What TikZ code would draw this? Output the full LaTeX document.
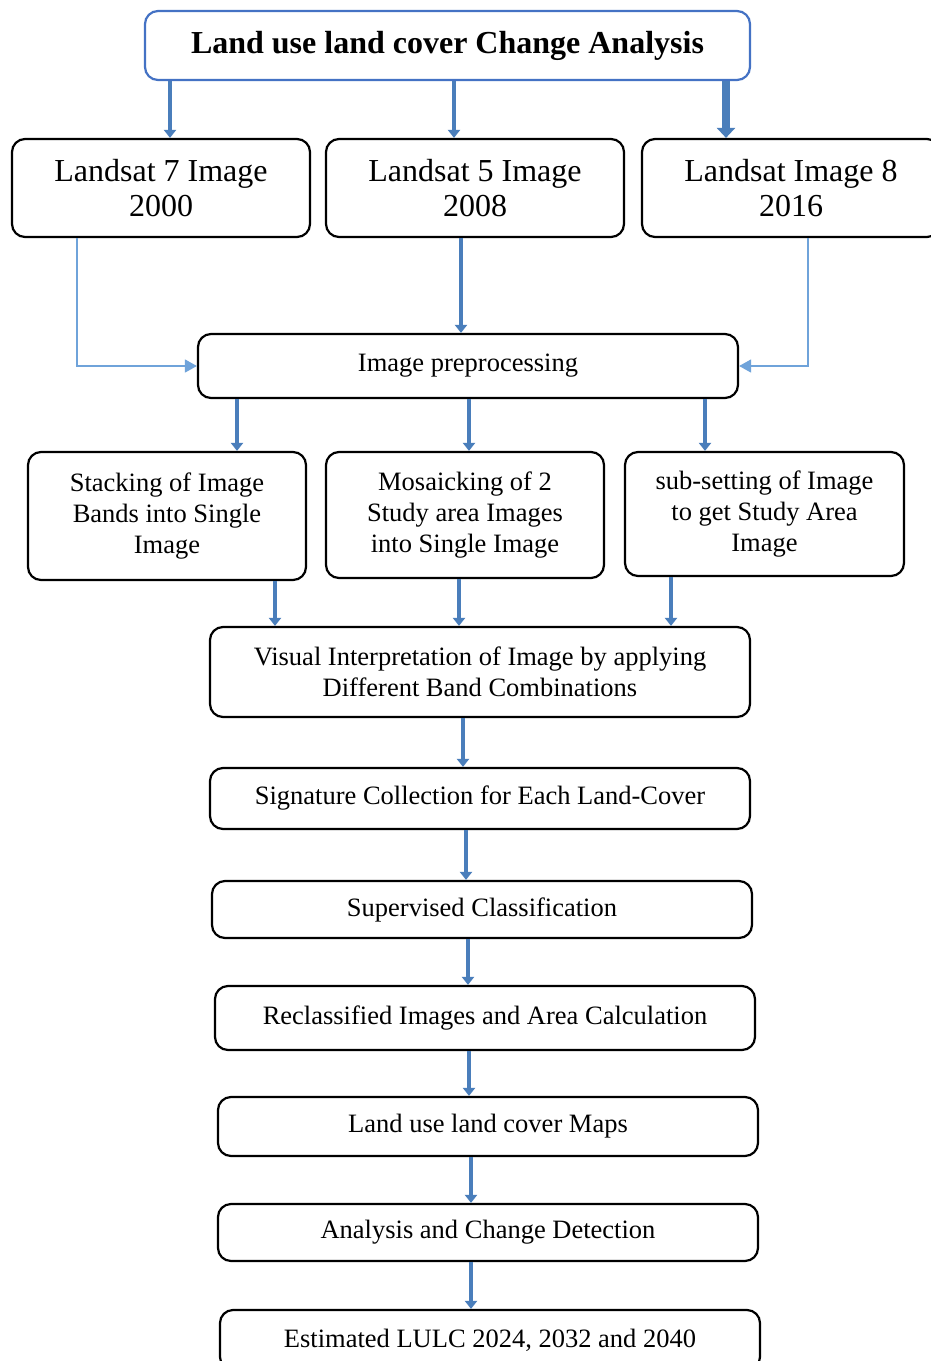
\documentclass[tikz,border=0pt]{standalone}
\usepackage{fontspec}
\setmainfont{Liberation Serif}
\usetikzlibrary{arrows.meta}
\definecolor{titleblue}{HTML}{4472C4}
\definecolor{arrowblue}{HTML}{4A7EBB}
\definecolor{thinblue}{HTML}{6FA3DA}
\tikzset{
  box/.style={draw=black, line width=2.2pt, rounded corners=13pt, inner sep=0pt, align=center,
    font=\fontsize{26.5}{31}\selectfont},
  bigbox/.style={box, font=\fontsize{32}{35}\selectfont},
  titlebox/.style={box, draw=titleblue, font=\bfseries\fontsize{32}{34}\selectfont},
  blk/.style={draw=arrowblue, line width=4.5pt, -{Triangle[width=12pt,length=8pt]}},
  blkwide/.style={draw=arrowblue, line width=8pt, -{Triangle[width=18pt,length=10pt]}},
  thin/.style={draw=thinblue, line width=1.4pt, -{Triangle[width=13pt,length=12pt]}},
}
\begin{document}
\begin{tikzpicture}[x=1pt,y=-1pt]
\useasboundingbox[fill=white] (0,0) rectangle (930,1361);
\node[titlebox, minimum width=605pt, minimum height=69pt] (title) at (447.5,45.5) {Land use land cover Change Analysis};
\node[bigbox, minimum width=298pt, minimum height=98pt] (l7) at (161,188) {Landsat 7 Image\\2000};
\node[bigbox, minimum width=298pt, minimum height=98pt] (l5) at (475,188) {Landsat 5 Image\\2008};
\node[bigbox, minimum width=298pt, minimum height=98pt] (l8) at (791,188) {Landsat Image 8\\2016};
\node[box, minimum width=540pt, minimum height=64pt] (pre) at (468,366) {Image preprocessing};
\node[box, minimum width=278pt, minimum height=128pt] (stk) at (167,516) {Stacking of Image\\Bands into Single\\Image};
\node[box, minimum width=278pt, minimum height=126pt] (mos) at (465,515) {Mosaicking of 2\\Study area Images\\into Single Image};
\node[box, minimum width=279pt, minimum height=124pt] (sub) at (764.5,514) {sub-setting of Image\\to get Study Area\\Image};
\node[box, minimum width=540pt, minimum height=90pt] (vis) at (480,672) {Visual Interpretation of Image by applying\\Different Band Combinations};
\node[box, minimum width=540pt, minimum height=61pt] (sig) at (480,798.5) {Signature Collection for Each Land-Cover};
\node[box, minimum width=540pt, minimum height=57pt] (sup) at (482,909.5) {Supervised Classification};
\node[box, minimum width=540pt, minimum height=64pt] (rec) at (485,1018) {Reclassified Images and Area Calculation};
\node[box, minimum width=540pt, minimum height=59pt] (map) at (488,1126.5) {Land use land cover Maps};
\node[box, minimum width=540pt, minimum height=57pt] (ana) at (488,1232.5) {Analysis and Change Detection};
\node[box, minimum width=540pt, minimum height=60pt] (est) at (490,1340) {Estimated LULC 2024, 2032 and 2040};
% arrows
\draw[blk] (title.south -| 170,0) -- (l7.north -| 170,0);
\draw[blk] (title.south -| 454,0) -- (l5.north -| 454,0);
\draw[blkwide] (title.south -| 726,0) -- (l8.north -| 726,0);
\draw[blk] (l5.south -| 461,0) -- (pre.north -| 461,0);
\draw[thin] (l7.south -| 77,0) |- (pre.west);
\draw[thin] (l8.south -| 808,0) |- (pre.east);
\draw[blk] (pre.south -| 237,0) -- (stk.north -| 237,0);
\draw[blk] (pre.south -| 469,0) -- (mos.north -| 469,0);
\draw[blk] (pre.south -| 705,0) -- (sub.north -| 705,0);
\draw[blk] (stk.south -| 275,0) -- (vis.north -| 275,0);
\draw[blk] (mos.south -| 459,0) -- (vis.north -| 459,0);
\draw[blk] (sub.south -| 671,0) -- (vis.north -| 671,0);
\draw[blk] (vis.south -| 463,0) -- (sig.north -| 463,0);
\draw[blk] (sig.south -| 466,0) -- (sup.north -| 466,0);
\draw[blk] (sup.south -| 468,0) -- (rec.north -| 468,0);
\draw[blk] (rec.south -| 469,0) -- (map.north -| 469,0);
\draw[blk] (map.south -| 471,0) -- (ana.north -| 471,0);
\draw[blk] (ana.south -| 471,0) -- (est.north -| 471,0);
\end{tikzpicture}
\end{document}
